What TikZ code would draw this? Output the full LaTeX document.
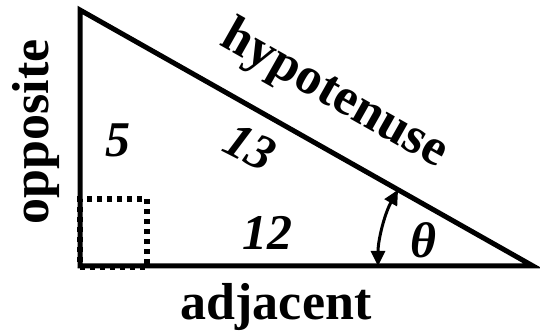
\documentclass[tikz,border=0pt]{standalone}
\usepackage{fontspec}
\setmainfont{Liberation Serif}
\usetikzlibrary{arrows.meta}
\tikzset{
  side/.style={line width=5pt, line join=miter},
  word/.style={font=\fontsize{52}{60}\selectfont\bfseries, inner sep=0pt},
  num/.style={font=\fontsize{50}{60}\selectfont\bfseries\itshape, inner sep=0pt},
  rightmark/.style={line width=5.5pt, dash pattern=on 5pt off 5pt},
  anglearrow/.style={line width=3pt, {Triangle[length=15pt,width=14pt]}-{Triangle[length=15pt,width=14pt]}}
}
\begin{document}
\begin{tikzpicture}[x=1pt,y=1pt]
\useasboundingbox (0,0) rectangle (540,334);
\coordinate (T) at (80,324);
\coordinate (O) at (80,67);
\coordinate (R) at (533,68);
\coordinate (S1) at (147,67);
\coordinate (S2) at (147,135);
\coordinate (S3) at (80,135);
\draw[rightmark] (O) -- (S1) -- (S2) -- (S3) -- cycle;
\draw[side] (T) -- (80,68) -- (R) -- cycle;
\coordinate (A1) at (378,68);
\draw[anglearrow] (A1) arc[start angle=180, end angle=150.53, radius=155pt];
\node[word, anchor=base, rotate=90] (opp) at (48,202) {opposite};
\node[word, anchor=base] (adj) at (276,14) {adjacent};
\node[word, anchor=base, rotate=-29.5] (hyp) at (328,228) {hypotenuse};
\node[num, anchor=base] (n5) at (118,177) {5};
\node[num, rotate=-27] (n13) at (250,187) {13};
\node[num, anchor=base] (n12) at (267,84) {12};
\node[num, anchor=base] (th) at (423,76) {θ};
\end{tikzpicture}
\end{document}
